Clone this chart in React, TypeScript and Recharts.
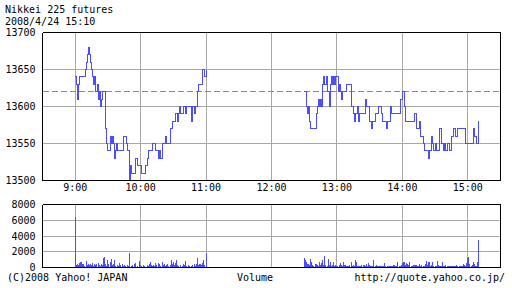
import { LineChart, Line, BarChart, Bar, XAxis, YAxis, CartesianGrid, ReferenceLine } from "recharts";

const amTimes = [
  "9:00", "9:01", "9:02", "9:03", "9:04", "9:09", "9:10", "9:11", "9:12", "9:13", "9:14", "9:15", "9:16", "9:17",
  "9:18", "9:19", "9:20", "9:21", "9:22", "9:23", "9:24", "9:25", "9:28", "9:29", "9:30", "9:32", "9:33", "9:34",
  "9:35", "9:36", "9:37", "9:38", "9:39", "9:44", "9:47", "9:48", "9:50", "9:51", "9:52", "9:55", "9:57", "10:01",
  "10:04", "10:06", "10:07", "10:11", "10:14", "10:16", "10:17", "10:18", "10:20", "10:23", "10:24", "10:27",
  "10:29", "10:32", "10:34", "10:35", "10:36", "10:37", "10:39", "10:41", "10:42", "10:47", "10:48", "10:49",
  "10:50", "10:52", "10:53", "10:57", "10:59", "11:00",
];
const amPrices = [
  13640, 13630, 13610, 13630, 13640, 13650, 13660, 13670, 13680, 13670, 13660, 13650, 13640, 13630,
  13640, 13620, 13630, 13610, 13620, 13600, 13610, 13620, 13570, 13550, 13540, 13560, 13550, 13560,
  13550, 13530, 13540, 13550, 13540, 13560, 13550, 13540, 13500, 13520, 13510, 13530, 13520, 13510,
  13520, 13530, 13540, 13550, 13540, 13530, 13540, 13530, 13550, 13560, 13550, 13570,
  13580, 13590, 13580, 13590, 13600, 13590, 13600, 13590, 13600, 13580, 13600, 13590,
  13600, 13620, 13630, 13650, 13640, 13650,
];

const pmTimes = [
  "12:30", "12:32", "12:33", "12:34", "12:35", "12:36", "12:41", "12:42", "12:43", "12:44",
  "12:45", "12:46", "12:47", "12:48", "12:49", "12:50", "12:51", "12:53", "12:54", "12:55",
  "12:56", "12:57", "12:58", "12:59", "13:01", "13:02", "13:03", "13:04", "13:05", "13:09",
  "13:13", "13:15", "13:16", "13:17", "13:19", "13:20", "13:21", "13:26", "13:27", "13:30",
  "13:32", "13:33", "13:35", "13:38", "13:41", "13:42", "13:45", "13:46", "13:49", "13:50",
  "13:58", "14:00", "14:02", "14:03", "14:11", "14:13", "14:16", "14:17", "14:19", "14:20",
  "14:24", "14:25", "14:27", "14:28", "14:29", "14:30", "14:31", "14:34", "14:36", "14:38",
  "14:39", "14:40", "14:41", "14:43", "14:45", "14:47", "14:49", "14:51", "14:58", "15:05",
  "15:06", "15:08", "15:10",
];
const pmPrices = [
  13620, 13600, 13590, 13600, 13580, 13570, 13590, 13600, 13610, 13600,
  13610, 13600, 13630, 13640, 13630, 13640, 13620, 13600, 13630, 13640,
  13630, 13640, 13630, 13640, 13620, 13630, 13620, 13610, 13620, 13630,
  13600, 13590, 13580, 13590, 13600, 13580, 13590, 13610, 13600, 13580,
  13570, 13580, 13590, 13600, 13590, 13580, 13570, 13580, 13600, 13590,
  13610, 13620, 13600, 13580, 13590, 13570, 13580, 13560, 13550, 13540,
  13530, 13540, 13560, 13550, 13540, 13550, 13540, 13570, 13550, 13540,
  13550, 13540, 13550, 13540, 13560, 13570, 13560, 13570, 13550, 13570,
  13560, 13550, 13580,
];

// one bar per minute, starting at the session open
const amVolumeStart = "9:00";
const amVolume = [
  6450,
  300, 400, 350, 600, 700, 650, 500, 400, 250,
  800, 300, 400, 300, 500, 300, 600, 200, 400, 300,
  500, 600, 300, 200, 400, 300, 1200, 1350, 500, 200,
  1000, 400, 700, 1100, 300, 400, 900, 200, 100, 300,
  200, 600, 300, 500, 200, 300, 200, 100, 300, 200,
  1900, 100, 200, 300, 500, 600, 100, 200, 100, 800,
  300, 200, 100, 300, 200, 100, 300, 200, 400, 700,
  300, 200, 300, 200, 600, 300, 600, 500, 200, 100,
  700, 300, 400, 200, 300, 500, 200, 300, 1000, 400,
  700, 300, 600, 900, 300, 200, 100, 300, 200, 400,
  300, 800, 200, 100, 300, 200, 100, 200, 300, 500,
  200, 400, 1200, 300, 500, 400, 300, 600, 900, 300,
  1850,
];
const pmVolumeStart = "12:30";
const pmVolume = [
  1170, 1000, 700, 400, 450, 350, 1100, 700, 300, 250,
  400, 400, 300, 200, 700, 300, 600, 1000, 300, 1500,
  300, 200, 1100, 300, 700, 200, 300, 700, 200, 300,
  200, 200, 300, 600, 300, 200, 700, 300, 300, 250,
  250, 200, 300, 700, 200, 300, 200, 1000, 700, 200,
  200, 150, 200, 300, 300, 300, 200, 400, 200, 600,
  300, 200, 250, 200, 1000, 200, 300, 200, 250, 250,
  200, 200, 200, 150, 600, 250, 200, 200, 200, 200,
  150, 200, 300, 300, 200, 200, 700, 200, 200, 300,
  600, 750, 700, 300, 600, 500, 300, 700, 250, 200,
  300, 300, 300, 300, 200, 200, 500, 200, 300, 200,
  200, 500, 800, 300, 700, 750, 200, 300, 700, 200,
  200, 200, 800, 300, 250, 200, 200, 700, 200, 200,
  300, 200, 200, 200, 250, 200, 200, 200, 200, 150,
  300, 200, 200, 250, 250, 200, 400, 300, 200, 600,
  1200, 1300, 400, 200, 300, 700, 400, 200, 250, 700,
  3500,
];

const prevClose = 13620;
const hourLabels = ["9:00", "10:00", "11:00", "12:00", "13:00", "14:00", "15:00"];
const priceTicks = [13500, 13550, 13600, 13650, 13700];
const volumeTicks = [0, 2000, 4000, 6000, 8000];

const FONT = "'DejaVu Sans Mono', monospace";
const BLUE = "#4c4cff";
const GRID = "#a8a8a8";

// minutes after 9:00
const toMin = (s: string) => {
  const [h, m] = s.split(":").map(Number);
  return (h - 9) * 60 + m;
};
const fromMin = (t: number) => `${9 + Math.floor(t / 60)}:${String(t % 60).padStart(2, "0")}`;

const X_DOMAIN = [-30, 390];
const hourTicks = hourLabels.map(toMin);
const halfHourTicks = hourTicks.flatMap((t) => [t, t + 30]);

const amData = amTimes.map((s, i) => ({ t: toMin(s), price: amPrices[i] }));
const pmData = pmTimes.map((s, i) => ({ t: toMin(s), price: pmPrices[i] }));
const volData = [
  ...amVolume.map((v, i) => ({ t: toMin(amVolumeStart) + i, vol: v })),
  ...pmVolume.map((v, i) => ({ t: toMin(pmVolumeStart) + i, vol: v })),
];

const tickText = { fill: "#000", fontSize: 10, fontFamily: FONT };
const border = { stroke: "#000", shapeRendering: "crispEdges" };

function PriceChart() {
  return (
    <LineChart width={512} height={200} margin={{ top: 32.5, right: 11.5, left: 0, bottom: 0 }}>
      <CartesianGrid
        stroke={GRID}
        shapeRendering="crispEdges"
        verticalValues={hourTicks}
        horizontalValues={[13550, 13600, 13650]}
      />
      <XAxis
        dataKey="t"
        type="number"
        domain={X_DOMAIN}
        ticks={hourTicks}
        tickFormatter={fromMin}
        interval={0}
        height={19.5}
        tickLine={false}
        axisLine={false}
        tickSize={0}
        tickMargin={3}
        tick={tickText}
        allowDataOverflow
      />
      <XAxis xAxisId="bt" orientation="bottom" mirror type="number" domain={X_DOMAIN} ticks={halfHourTicks}
        tick={false} tickSize={4} tickLine={border} axisLine={border} allowDataOverflow />
      <XAxis xAxisId="tp" orientation="top" mirror type="number" domain={X_DOMAIN} ticks={halfHourTicks}
        tick={false} tickSize={4} tickLine={border} axisLine={border} allowDataOverflow />
      <YAxis
        type="number"
        domain={[13500, 13700]}
        ticks={priceTicks}
        interval={0}
        width={42.5}
        tickLine={false}
        axisLine={false}
        tickSize={0}
        tickMargin={7}
        tick={tickText}
        allowDataOverflow
      />
      <YAxis yAxisId="lf" orientation="left" mirror type="number" domain={[13500, 13700]} ticks={priceTicks}
        tick={false} tickSize={4} tickLine={border} axisLine={border} allowDataOverflow />
      <YAxis yAxisId="rt" orientation="right" mirror type="number" domain={[13500, 13700]} ticks={priceTicks}
        tick={false} tickSize={4} tickLine={border} axisLine={border} allowDataOverflow />
      <ReferenceLine y={prevClose} stroke="#ff5a5a" strokeOpacity={1} strokeDasharray="6 3" shapeRendering="crispEdges" />
      <Line data={amData} dataKey="price" type="stepAfter" stroke={BLUE} strokeWidth={1} dot={false}
        shapeRendering="crispEdges" isAnimationActive={false} />
      <Line data={pmData} dataKey="price" type="stepAfter" stroke={BLUE} strokeWidth={1} dot={false}
        shapeRendering="crispEdges" isAnimationActive={false} />
    </LineChart>
  );
}

function VolumeChart() {
  return (
    <BarChart width={512} height={98} data={volData} margin={{ top: 14.5, right: 11.5, left: 0, bottom: 20.5 }}>
      <CartesianGrid
        stroke={GRID}
        shapeRendering="crispEdges"
        verticalValues={hourTicks}
        horizontalValues={[2000, 4000, 6000]}
      />
      <XAxis dataKey="t" type="number" domain={X_DOMAIN} hide allowDataOverflow />
      <XAxis xAxisId="bt" orientation="bottom" mirror type="number" domain={X_DOMAIN} ticks={halfHourTicks}
        tick={false} tickSize={4} tickLine={border} axisLine={border} allowDataOverflow />
      <XAxis xAxisId="tp" orientation="top" mirror type="number" domain={X_DOMAIN} ticks={halfHourTicks}
        tick={false} tickSize={4} tickLine={border} axisLine={border} allowDataOverflow />
      <YAxis
        type="number"
        domain={[0, 8000]}
        ticks={volumeTicks}
        interval={0}
        width={42.5}
        tickLine={false}
        axisLine={false}
        tickSize={0}
        tickMargin={7}
        tick={tickText}
        allowDataOverflow
      />
      <YAxis yAxisId="lf" orientation="left" mirror type="number" domain={[0, 8000]} ticks={volumeTicks}
        tick={false} tickSize={4} tickLine={border} axisLine={border} allowDataOverflow />
      <YAxis yAxisId="rt" orientation="right" mirror type="number" domain={[0, 8000]} ticks={volumeTicks}
        tick={false} tickSize={4} tickLine={border} axisLine={border} allowDataOverflow />
      <Bar dataKey="vol" fill={BLUE} barSize={1} shapeRendering="crispEdges" isAnimationActive={false} />
    </BarChart>
  );
}

export default function App() {
  return (
    <div style={{ position: "absolute", left: 0, top: 0, width: 512, height: 288, background: "#fff" }}>
      <svg width={512} height={288} style={{ position: "absolute", left: 0, top: 0 }}
        fontFamily={FONT} fontSize={10} fill="#000">
        <text x={5} y={13}>Nikkei 225 futures</text>
        <text x={5} y={25}>2008/4/24 15:10</text>
        <text x={7} y={281}>(C)2008 Yahoo! JAPAN</text>
        <text x={237} y={281}>Volume</text>
        <text x={505} y={281} textAnchor="end">http://quote.yahoo.co.jp/</text>
      </svg>
      <div style={{ position: "absolute", left: 0, top: 0 }}>
        <PriceChart />
      </div>
      <div style={{ position: "absolute", left: 0, top: 190 }}>
        <VolumeChart />
      </div>
    </div>
  );
}
